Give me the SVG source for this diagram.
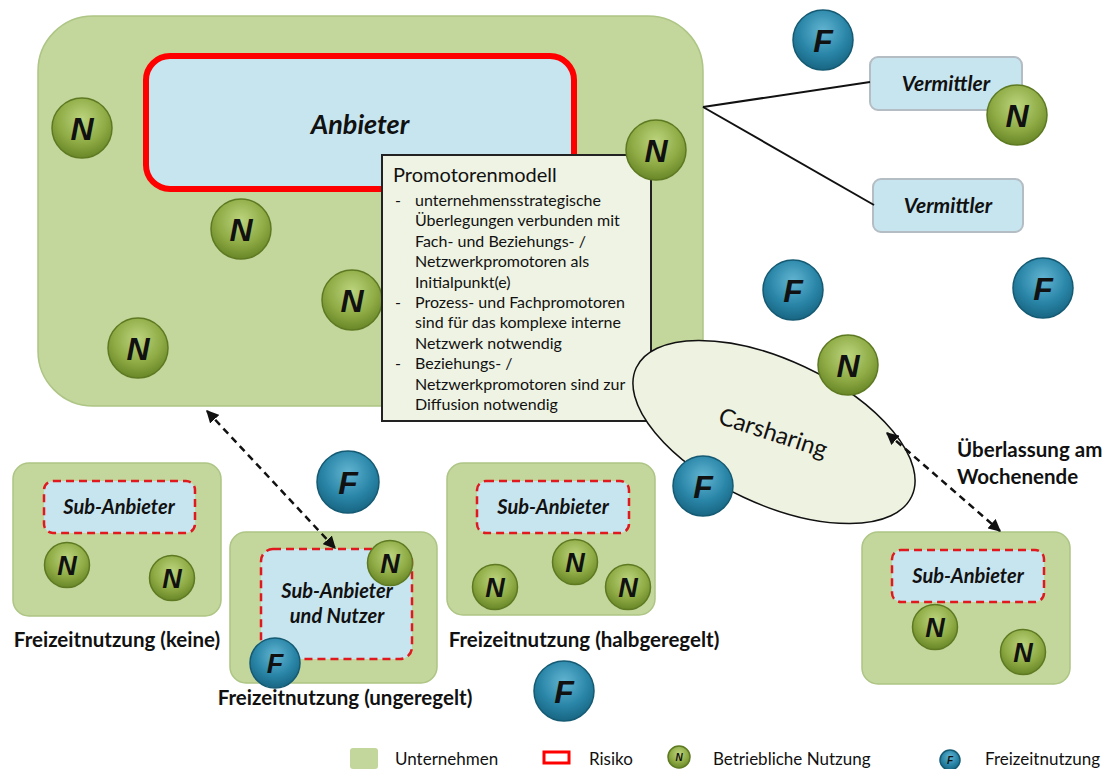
<svg xmlns="http://www.w3.org/2000/svg" width="1109" height="769" viewBox="0 0 1109 769">
<defs>
<radialGradient id="gN" cx="50%" cy="35%" r="65%">
<stop offset="0" stop-color="#bcd47e"/><stop offset="0.6" stop-color="#8fac46"/><stop offset="1" stop-color="#6a8728"/>
</radialGradient>
<radialGradient id="gF" cx="50%" cy="35%" r="65%">
<stop offset="0" stop-color="#63b5d2"/><stop offset="0.6" stop-color="#2a86a8"/><stop offset="1" stop-color="#186683"/>
</radialGradient>
<marker id="ah" viewBox="0 0 10 10" refX="9" refY="5" markerWidth="5" markerHeight="5" orient="auto-start-reverse" markerUnits="strokeWidth">
<path d="M0,0 L10,5 L0,10 z" fill="#111"/>
</marker>
</defs>
<style>
.org{fill:#c3d69b;stroke:#adc585;stroke-width:1.5}
.sub{fill:#c7e5ef;stroke:#e0191f;stroke-width:2.5;stroke-dasharray:8 5}
.vm{fill:#c7e5ef;stroke:#b4bcc4;stroke-width:2}
.cN{fill:url(#gN);stroke:#5d7a22;stroke-width:1.5}
.cF{fill:url(#gF);stroke:#155a73;stroke-width:1.5}
.L{font-family:"Liberation Sans",Arial,sans-serif;font-weight:bold;font-style:italic;fill:#111;text-anchor:middle}
.bi{font-family:Lato,"Liberation Sans",sans-serif;font-weight:bold;font-style:italic;fill:#111;text-anchor:middle}
.b{font-family:Lato,"Liberation Sans",sans-serif;font-weight:bold;fill:#111}
.t{font-family:Lato,"Liberation Sans",sans-serif;fill:#111}
.dash{fill:none;stroke:#111;stroke-width:2.5;stroke-dasharray:7 5}
</style>

<g id="unternehmen-main">
<rect class="org" x="38" y="16" width="665" height="390" rx="55"/>
</g>
<g id="anbieter">
<rect x="146" y="56" width="428" height="133" rx="24" fill="#c7e5ef" stroke="#ff0000" stroke-width="6"/>
<text class="bi" x="360" y="134" font-size="27">Anbieter</text>
</g>

<g id="n-main-1"><circle class="cN" cx="82" cy="128" r="30"/><text class="L" x="82" y="140" font-size="32">N</text></g>
<g id="n-main-2"><circle class="cN" cx="241" cy="229" r="30"/><text class="L" x="241" y="241" font-size="32">N</text></g>
<g id="n-main-3"><circle class="cN" cx="138" cy="348" r="30"/><text class="L" x="138" y="360" font-size="32">N</text></g>
<g id="n-main-4"><circle class="cN" cx="352" cy="300" r="30"/><text class="L" x="352" y="312" font-size="32">N</text></g>

<g id="promotorenmodell">
<rect x="382" y="155" width="269" height="266" fill="#eef3e3" stroke="#222" stroke-width="2"/>
<text class="t" x="393" y="182" font-size="20">Promotorenmodell</text>
<g class="t" font-size="16">
<text x="395" y="206">-</text><text x="415" y="206">unternehmensstrategische</text>
<text x="415" y="226">Überlegungen verbunden mit</text>
<text x="415" y="247">Fach- und Beziehungs- /</text>
<text x="415" y="267">Netzwerkpromotoren als</text>
<text x="415" y="288">Initialpunkt(e)</text>
<text x="395" y="308">-</text><text x="415" y="308">Prozess- und Fachpromotoren</text>
<text x="415" y="328">sind für das komplexe interne</text>
<text x="415" y="349">Netzwerk notwendig</text>
<text x="395" y="369">-</text><text x="415" y="369">Beziehungs- /</text>
<text x="415" y="390">Netzwerkpromotoren sind zur</text>
<text x="415" y="410">Diffusion notwendig</text>
</g>
</g>
<g id="n-main-5"><circle class="cN" cx="656" cy="150" r="30"/><text class="L" x="656" y="162" font-size="32">N</text></g>

<g id="carsharing">
<ellipse cx="774" cy="432" rx="152" ry="72" transform="rotate(25 774 432)" fill="#eef2e1" stroke="#111" stroke-width="1.5"/>
<text class="t" x="773" y="441" font-size="24" text-anchor="middle" transform="rotate(18 773 433)">Carsharing</text>
</g>
<g id="n-car"><circle class="cN" cx="848" cy="365" r="30"/><text class="L" x="848" y="377" font-size="32">N</text></g>
<g id="f-car"><circle class="cF" cx="703" cy="486" r="30"/><text class="L" x="703" y="498" font-size="32">F</text></g>

<g id="vermittler-1">
<rect class="vm" x="870" y="57" width="152" height="53" rx="8"/>
<text class="bi" x="946" y="91" font-size="21">Vermittler</text>
</g>
<g id="n-verm"><circle class="cN" cx="1017" cy="115" r="30"/><text class="L" x="1017" y="127" font-size="32">N</text></g>
<g id="vermittler-2">
<rect class="vm" x="873" y="179" width="150" height="53" rx="8"/>
<text class="bi" x="948" y="213" font-size="21">Vermittler</text>
</g>

<g id="f-1"><circle class="cF" cx="823" cy="40" r="30"/><text class="L" x="823" y="52" font-size="32">F</text></g>
<g id="f-2"><circle class="cF" cx="793" cy="290" r="30"/><text class="L" x="793" y="302" font-size="32">F</text></g>
<g id="f-3"><circle class="cF" cx="1043" cy="288" r="30"/><text class="L" x="1043" y="300" font-size="32">F</text></g>
<g id="f-4"><circle class="cF" cx="348" cy="482" r="31"/><text class="L" x="348" y="494" font-size="32">F</text></g>
<g id="f-5"><circle class="cF" cx="564" cy="691" r="30"/><text class="L" x="564" y="703" font-size="32">F</text></g>

<g id="label-wochenende">
<text class="b" x="957" y="457" font-size="20.5">Überlassung am</text>
<text class="b" x="957" y="484" font-size="20.5">Wochenende</text>
</g>

<g id="box-keine">
<rect class="org" x="13" y="463" width="208" height="153" rx="16"/>
<rect class="sub" x="44" y="481" width="151" height="52" rx="9"/>
<text class="bi" x="119" y="514" font-size="20">Sub-Anbieter</text>
<circle class="cN" cx="67" cy="565" r="22.5"/><text class="L" x="67" y="575" font-size="27">N</text>
<circle class="cN" cx="172" cy="578" r="22.5"/><text class="L" x="172" y="588" font-size="27">N</text>
<text class="b" x="117" y="647" font-size="20.5" text-anchor="middle">Freizeitnutzung (keine)</text>
</g>

<g id="box-ungeregelt">
<rect class="org" x="230" y="532" width="207" height="151" rx="16"/>
<rect class="sub" x="261" y="549" width="151" height="110" rx="12"/>
<text class="bi" x="337" y="598" font-size="20">Sub-Anbieter</text>
<text class="bi" x="337" y="623" font-size="20">und Nutzer</text>
<circle class="cN" cx="390" cy="563" r="22.5"/><text class="L" x="390" y="573" font-size="27">N</text>
<circle class="cF" cx="275" cy="663" r="25"/><text class="L" x="275" y="673" font-size="27">F</text>
<text class="b" x="345" y="705" font-size="20.5" text-anchor="middle">Freizeitnutzung (ungeregelt)</text>
</g>

<g id="box-halbgeregelt">
<rect class="org" x="447" y="463" width="208" height="152" rx="16"/>
<rect class="sub" x="477" y="481" width="152" height="52" rx="9"/>
<text class="bi" x="553" y="514" font-size="20">Sub-Anbieter</text>
<circle class="cN" cx="495" cy="587" r="22.5"/><text class="L" x="495" y="597" font-size="27">N</text>
<circle class="cN" cx="575" cy="562" r="22.5"/><text class="L" x="575" y="572" font-size="27">N</text>
<circle class="cN" cx="628" cy="587" r="22.5"/><text class="L" x="628" y="597" font-size="27">N</text>
<text class="b" x="584" y="647" font-size="20.5" text-anchor="middle">Freizeitnutzung (halbgeregelt)</text>
</g>

<g id="box-wochenende">
<rect class="org" x="862" y="532" width="208" height="152" rx="16"/>
<rect class="sub" x="892" y="550" width="152" height="52" rx="9"/>
<text class="bi" x="968" y="583" font-size="20">Sub-Anbieter</text>
<circle class="cN" cx="935" cy="627" r="22.5"/><text class="L" x="935" y="637" font-size="27">N</text>
<circle class="cN" cx="1023" cy="652" r="22.5"/><text class="L" x="1023" y="662" font-size="27">N</text>
</g>

<g id="connectors">
<line x1="703" y1="107" x2="870" y2="82" stroke="#111" stroke-width="2"/>
<line x1="703" y1="107" x2="874" y2="205" stroke="#111" stroke-width="2"/>
<line class="dash" x1="207" y1="411" x2="335" y2="548" marker-start="url(#ah)" marker-end="url(#ah)"/>
<line class="dash" x1="887" y1="433" x2="1000" y2="531" marker-start="url(#ah)" marker-end="url(#ah)"/>
</g>

<g id="legend">
<rect x="350" y="748" width="28" height="21" rx="3" fill="#c3d69b"/>
<text class="t" x="395" y="765" font-size="17">Unternehmen</text>
<rect x="544" y="752" width="25" height="11" fill="#fff" stroke="#ff0000" stroke-width="3"/>
<text class="t" x="589" y="765" font-size="17">Risiko</text>
<circle class="cN" cx="679" cy="757" r="11"/><text class="L" x="679" y="761" font-size="10">N</text>
<text class="t" x="713" y="765" font-size="17">Betriebliche Nutzung</text>
<circle class="cF" cx="950" cy="760" r="10"/><text class="L" x="950" y="764" font-size="10">F</text>
<text class="t" x="985" y="765" font-size="17">Freizeitnutzung</text>
</g>
</svg>
